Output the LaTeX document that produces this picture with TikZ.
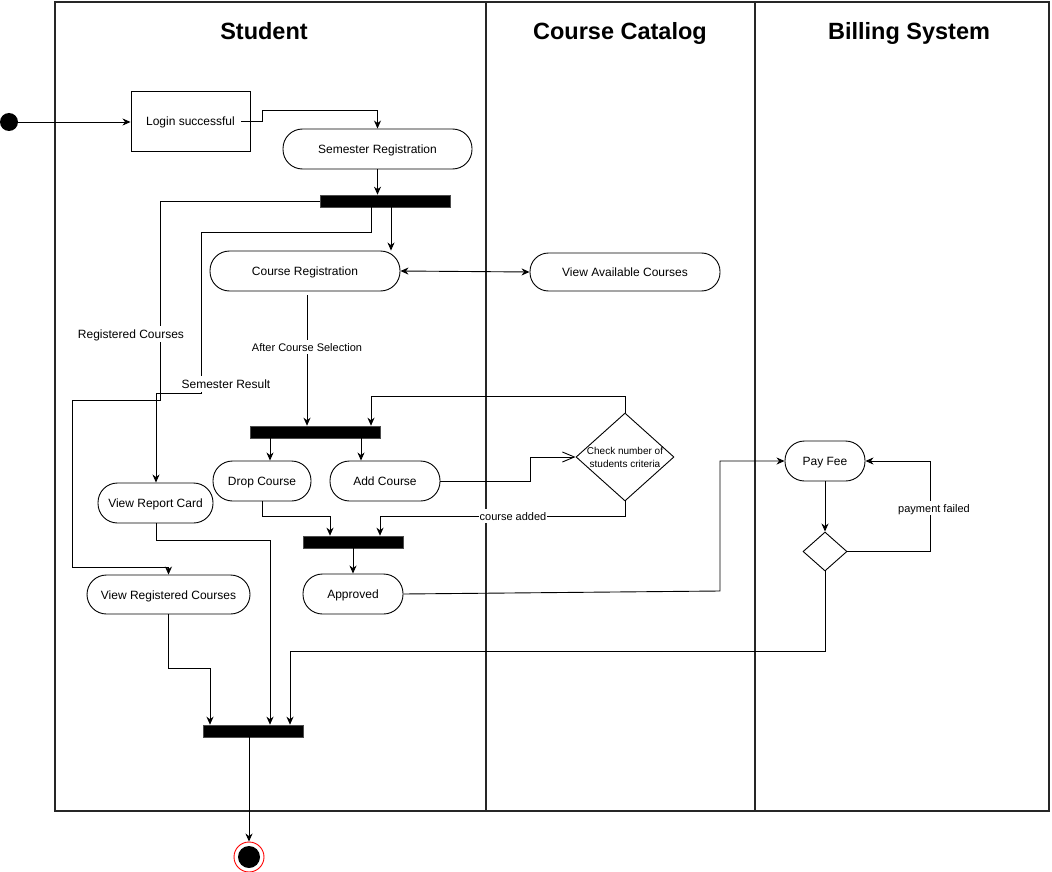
\documentclass[tikz,border=0pt]{standalone}
\usepackage{fontspec}
\setmainfont{Liberation Sans}
\usetikzlibrary{arrows.meta,shapes.geometric,calc}
\begin{document}
\begin{tikzpicture}[x=1pt,y=-1pt,
  every node/.style={font=\fontsize{12}{14}\selectfont},
  txt/.style={text height=11.5pt,text depth=2.5pt},
  lane/.style={line width=1.8pt,draw=black!85},
  head/.style={font=\fontsize{23.5}{26}\selectfont\bfseries,text height=17pt,text depth=5pt},
  act/.style={draw,line width=0.9pt,rounded corners=19.5pt,minimum height=40pt,inner sep=0pt,txt},
  boxnode/.style={draw,line width=0.9pt,inner sep=0pt,txt},
  bar/.style={fill=black,draw=black!70,line width=0.6pt,inner sep=0pt,minimum height=12pt},
  decision/.style={draw,diamond,line width=0.9pt,inner sep=0pt,aspect=1,fill=white},
  arr/.style={line width=0.9pt,-{Stealth[length=8pt,width=7pt,inset=2.5pt]}},
  openarr/.style={line width=0.9pt,-{Straight Barb[length=12pt,width=10pt,line width=0.9pt]}},
  lbl/.style={fill=white,inner sep=1pt,txt},
  slbl/.style={fill=white,inner sep=1pt,font=\fontsize{11}{13}\selectfont,text height=10.5pt,text depth=2.3pt}
]
\useasboundingbox (0,0) rectangle (1052,872);
% swimlanes
\draw[lane] (55,2) rectangle (1049,811);
\draw[lane] (486,2) -- (486,811);
\draw[lane] (755,2) -- (755,811);
\node[head] (hstu) at (264,33.4) {Student};
\node[head] (hcat) at (620,33.4) {Course Catalog};
\node[head] (hbil) at (909,33.4) {Billing System};

% nodes
\node[circle,fill=black,minimum size=18pt,inner sep=0pt] (init) at (9,122) {};
\node[boxnode,minimum width=119pt,minimum height=60pt] (login) at (190.5,121) {Login successful};
\node[act,minimum width=189pt] (semreg) at (377.5,149) {Semester Registration};
\node[bar,minimum width=130pt] (b1) at (385,201) {};
\node[act,minimum width=190pt] (creg) at (305,271) {Course Registration};
\node[act,minimum width=190pt,minimum height=38pt,rounded corners=18.5pt] (vac) at (625,272) {View Available Courses};
\node[bar,minimum width=130pt] (b2) at (315,432) {};
\node[act,minimum width=98pt] (drop) at (262,481) {Drop Course};
\node[act,minimum width=110pt] (add) at (385,481) {Add Course};
\node[decision,minimum width=98pt,minimum height=88pt] (chkd) at (625,457) {};
\node[align=center,font=\fontsize{10}{13}\selectfont] (chk) at (625,457.5) {Check number of\\students criteria};
\node[bar,minimum width=100pt] (b3) at (353,542) {};
\node[act,minimum width=100pt] (appr) at (353,594) {Approved};
\node[act,minimum width=115pt] (vrep) at (155.5,503) {View Report Card};
\node[act,minimum width=163pt,minimum height=39pt] (vregc) at (168.5,594.5) {View Registered Courses};
\node[act,minimum width=80pt] (pay) at (825,461) {Pay Fee};
\node[decision,minimum width=44pt,minimum height=39pt] (dia) at (825,551.5) {};
\node[bar,minimum width=100pt] (b4) at (253,731) {};
\node[circle,draw=red,line width=0.9pt,fill=white,minimum size=30pt,inner sep=0pt] (fin) at (249,857) {};
\node[circle,fill=black,minimum size=22pt,inner sep=0pt] (finin) at (fin) {};

% connectors
\draw[arr] (init.east) -- (init.east -| login.west);
\draw[arr] ([xshift=-9pt]login.east) -- (262,121) -- (262,110) -- (semreg.north |- 0,110) -- (semreg.north);
\draw[arr] (semreg.south) -- (semreg.south |- b1.north);
\draw[arr] (b1.west) -- (160,201) -- (160,400) -- (72,400) -- (72,567) -- (vregc.north |- 0,567) -- (vregc.north);
\node[lbl] (lrc) at (131,334) {Registered Courses};
\draw[arr] (371,0 |- b1.south) -- (371,232) -- (201,232) -- (201,393) -- (156,393) -- (vrep.north -| 156,0);
\node[lbl] (lsr) at (226,384) {Semester Result};
\draw[arr] (391,0 |- b1.south) -- (391,0 |- creg.north);
\draw[line width=0.9pt,{Stealth[length=8pt,width=7pt,inset=2.5pt]}-{Stealth[length=8pt,width=7pt,inset=2.5pt]}] (creg.east) -- (vac.west);
\draw[arr] (307,295) -- (307,0 |- b2.north);
\node[slbl] (lacs) at (307,347) {After Course Selection};
\draw[arr] (270,0 |- b2.south) -- (270,0 |- drop.north);
\draw[arr] (361,0 |- b2.south) -- (361,0 |- add.north);
\draw[openarr] (add.east) -- (530,481) -- (530,457) -- (chkd.west);
\draw[arr] (chkd.north) -- (625,396) -- (371,396) -- (371,0 |- b2.north);
\draw[arr] (chkd.south) -- (625,516) -- (380,516) -- (380,0 |- b3.north);
\node[slbl] (lca) at (513,516) {course added};
\draw[arr] (drop.south) -- (262,516) -- (330,516) -- (330,0 |- b3.north);
\draw[arr] (b3.south) -- (appr.north);
\draw[arr] (appr.east) -- (720,591) -- (720,461) -- (pay.west);
\draw[arr] (pay.south) -- (dia.north);
\draw[arr] (dia.east) -- (930,551.5) -- (930,461) -- (pay.east);
\node[slbl] (lpf) at (934,508) {payment failed};
\draw[arr] (dia.south) -- (825,651) -- (290,651) -- (290,0 |- b4.north);
\draw[arr] (vrep.south -| 156,0) -- (156,540) -- (270,540) -- (270,0 |- b4.north);
\draw[arr] (vregc.south -| 168,0) -- (168,668) -- (210,668) -- (210,0 |- b4.north);
\draw[arr] (b4.south -| 249,0) -- (fin.north);
\end{tikzpicture}
\end{document}
